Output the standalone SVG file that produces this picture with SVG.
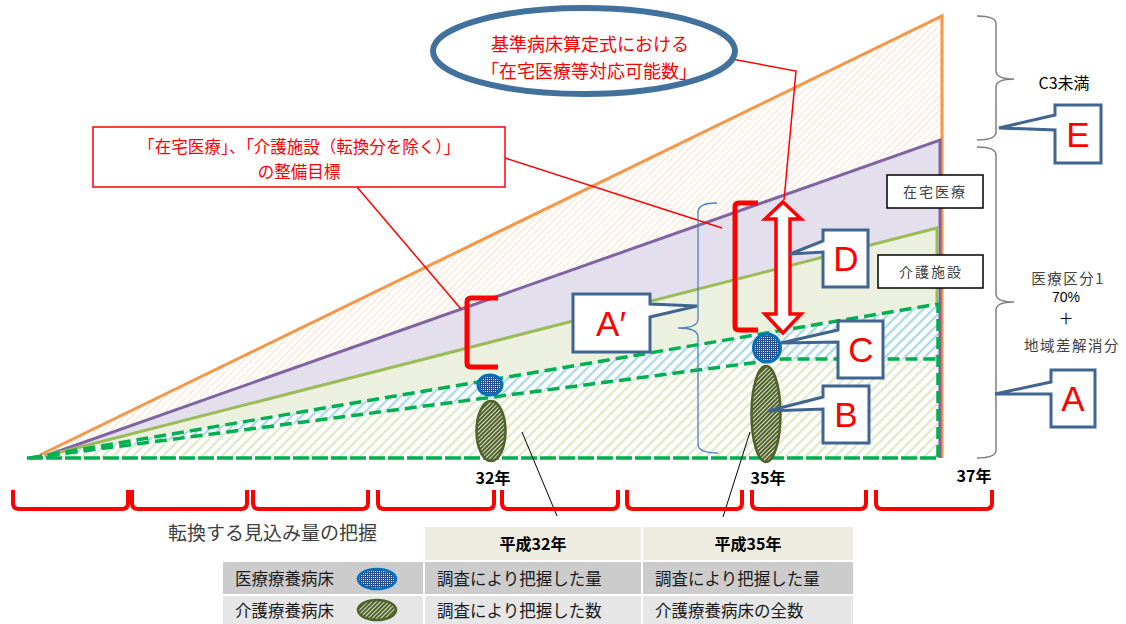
<svg xmlns="http://www.w3.org/2000/svg" width="1126" height="624" viewBox="0 0 1126 624">
<style>
.jp{font-family:"Noto Sans CJK JP","Noto Sans",sans-serif}
.red{fill:#FF0000}
.lat{font-family:"Liberation Sans",Arial,sans-serif}
.call{fill:#fff;stroke:#3F6590;stroke-width:3;stroke-linejoin:miter}
.letter{font-family:"Liberation Sans",Arial,sans-serif;font-size:35px;fill:#FF0000;text-anchor:middle}
.rl{stroke:#FF0000;stroke-width:1.5;fill:none}
.bl{stroke:#000;stroke-width:1;fill:none}
.brk{stroke:#FF0000;stroke-width:4;fill:none;stroke-linecap:butt}
.gb{stroke:#7F7F7F;stroke-width:1.5;fill:none}
.yr{font-family:"Noto Sans CJK JP",sans-serif;font-size:16px;font-weight:bold;fill:#000;text-anchor:middle}
.cell{font-family:"Noto Sans CJK JP",sans-serif;font-size:16.5px;fill:#1a1a1a}
</style>
<defs>
<pattern id="hOr" width="5" height="5" patternUnits="userSpaceOnUse" patternTransform="rotate(45)"><rect width="5" height="5" fill="#fff"/><line x1="2.5" y1="0" x2="2.5" y2="5" stroke="#FDE3D0" stroke-width="1.2"/></pattern>
<pattern id="hBl" width="7" height="7" patternUnits="userSpaceOnUse" patternTransform="rotate(45)"><rect width="7" height="7" fill="#fff"/><line x1="3.5" y1="0" x2="3.5" y2="7" stroke="#9DD2DF" stroke-width="2"/></pattern>
<pattern id="hGr" width="7" height="7" patternUnits="userSpaceOnUse" patternTransform="rotate(45)"><rect width="7" height="7" fill="#fff"/><line x1="3.5" y1="0" x2="3.5" y2="7" stroke="#D9E6C0" stroke-width="2"/></pattern>
<pattern id="mesh" width="4" height="4" patternUnits="userSpaceOnUse"><rect width="4" height="4" fill="#fff"/><path d="M0 0.5H4M0.5 0V4M0 2.5H4M2.5 0V4" stroke="#264F8C" stroke-width="1.2"/></pattern>
<pattern id="oh" width="3" height="3" patternUnits="userSpaceOnUse" patternTransform="rotate(45)"><rect width="3" height="3" fill="#4F6228"/><line x1="1.5" y1="0" x2="1.5" y2="3" stroke="#fff" stroke-width="0.8"/></pattern>
</defs>
<rect width="1126" height="624" fill="#fff"/>

<g id="chart">
<polygon points="40,455 942,16 942,458 40,458" fill="url(#hOr)"/>
<polygon points="45,456 940,140 940,458" fill="#E4DFEC"/>
<polygon points="45,456 937,228 937,458" fill="#EBF1DE"/>
<polygon points="30,458 938,304 938,458" fill="url(#hBl)"/>
<polygon points="30,458 782,359 938,359 938,458" fill="url(#hGr)"/>
<polyline points="40,455 942,16 942,458" fill="none" stroke="#F79646" stroke-width="3"/>
<polyline points="45,456 940,140 940,458" fill="none" stroke="#8064A2" stroke-width="3"/>
<polyline points="45,456 937,228 937,302" fill="none" stroke="#9BBB59" stroke-width="3"/>
<polyline points="30,458 938,304 938,458" fill="none" stroke="#00B050" stroke-width="3.5" stroke-dasharray="12 6"/>
<polyline points="30,458 782,359 938,359" fill="none" stroke="#00B050" stroke-width="3.5" stroke-dasharray="12 6"/>
<line x1="27" y1="458" x2="938" y2="458" stroke="#00B050" stroke-width="3.5" stroke-dasharray="16 3"/>
</g>

<g id="connectors">
<polyline class="rl" points="721,57 796,71 784,200"/>
<line class="rl" x1="505" y1="158" x2="722" y2="228"/>
<line class="rl" x1="357" y1="187" x2="461" y2="309"/>
<line class="bl" x1="522" y1="432" x2="557" y2="516"/>
<line class="bl" x1="750" y1="432" x2="723" y2="517"/>
</g>

<g id="bracket-32">
<path d="M498,298 H471 Q467,298 467,302 V363 Q467,367 471,367 H498" fill="none" stroke="#FF0000" stroke-width="5"/>
</g>
<g id="bracket-35">
<path d="M758,203 H739 Q735,203 735,207 V326 Q735,330 739,330 H758" fill="none" stroke="#FF0000" stroke-width="5"/>
</g>
<g id="double-arrow">
<path d="M783,202 L801,219 L790,219 L790,314 L801,314 L783,333 L765,314 L776,314 L776,219 L765,219 Z" fill="#fff" stroke="#FF0000" stroke-width="3.5" stroke-linejoin="miter"/>
</g>
<g id="brace-blue">
<path d="M717,203 Q698,203 698,212 V319 Q698,328 678,328 Q698,328 698,337 V444 Q698,453 718,453" fill="none" stroke="#4F81BD" stroke-width="1.3"/>
</g>

<g id="markers-32">
<ellipse cx="490" cy="385" rx="12" ry="10" fill="url(#mesh)" stroke="#0070C0" stroke-width="3"/>
<ellipse cx="491" cy="431" rx="14.5" ry="30" fill="url(#oh)" stroke="#4F6228" stroke-width="2.5"/>
</g>
<g id="markers-35">
<ellipse cx="767" cy="348" rx="13.5" ry="14" fill="url(#mesh)" stroke="#0070C0" stroke-width="3"/>
<ellipse cx="766" cy="414" rx="14.5" ry="48" fill="url(#oh)" stroke="#4F6228" stroke-width="2.5"/>
</g>

<g id="oval-title">
<ellipse cx="584" cy="51" rx="151" ry="43" fill="#fff" stroke="#41719C" stroke-width="6"/>
<text class="jp red" x="590" y="51" font-size="18" text-anchor="middle">基準病床算定式における</text>
<text class="jp red" x="589" y="78" font-size="18" text-anchor="middle">「在宅医療等対応可能数」</text>
</g>

<g id="target-box">
<rect x="93" y="127" width="412" height="60" fill="#fff" stroke="#FF0000" stroke-width="1.5"/>
<text class="jp red" x="299" y="153" font-size="16.5" text-anchor="middle">「在宅医療」、「介護施設（転換分を除く）」</text>
<text class="jp red" x="299" y="178" font-size="16.5" text-anchor="middle">の整備目標</text>
</g>

<g id="label-zaitaku">
<rect x="887" y="175" width="96" height="33" fill="#fff" stroke="#000" stroke-width="1.5"/>
<text class="jp" x="935" y="197" font-size="14" fill="#404040" text-anchor="middle" letter-spacing="2">在宅医療</text>
</g>
<g id="label-kaigo">
<rect x="878" y="255" width="105" height="33" fill="#fff" stroke="#000" stroke-width="1.5"/>
<text class="jp" x="931" y="277" font-size="14" fill="#404040" text-anchor="middle" letter-spacing="2">介護施設</text>
</g>

<g id="brace-E">
<path class="gb" d="M977,16 Q996,16 996,24 V71 Q996,79 1014,79 Q996,79 996,87 V132 Q996,140 977,140"/>
<text class="jp" x="1064" y="89" font-size="16" fill="#000" text-anchor="middle">C3未満</text>
</g>
<g id="brace-A">
<path class="gb" d="M977,147 Q996,147 996,155 V294 Q996,302 1014,302 Q996,302 996,310 V450 Q996,458 977,458"/>
<text class="jp" x="1068" y="284" font-size="14.5" fill="#404040" text-anchor="middle" letter-spacing="1.5">医療区分1</text>
<text class="lat" x="1066" y="302" font-size="14" fill="#000" text-anchor="middle">70%</text>
<text class="jp" x="1066" y="324" font-size="15" fill="#000" text-anchor="middle">＋</text>
<text class="jp" x="1072" y="351" font-size="14.5" fill="#404040" text-anchor="middle" letter-spacing="1.5">地域差解消分</text>
</g>

<g id="callout-E">
<path class="call" d="M1055,105 H1101 V163 H1055 V130 L999,128 L1055,115 Z"/>
<text class="letter" x="1078" y="147">E</text>
</g>
<g id="callout-A">
<path class="call" d="M1051,370 H1095 V427 H1051 V394 L995,394 L1051,382 Z"/>
<text class="letter" x="1073" y="411">A</text>
</g>
<g id="callout-D">
<path class="call" d="M823,230 H868 V287 H823 V252 L790,254 L823,241 Z"/>
<text class="letter" x="846" y="271">D</text>
</g>
<g id="callout-C">
<path class="call" d="M838,321 H883 V378 H838 V342 L781,343 L838,330 Z"/>
<text class="letter" x="861" y="362">C</text>
</g>
<g id="callout-B">
<path class="call" d="M823,386 H869 V443 H823 V409 L768,411 L823,397 Z"/>
<text class="letter" x="846" y="427">B</text>
</g>
<g id="callout-Aprime">
<path class="call" d="M573,294 H650 V304 L697,306 L650,317 V352 H573 Z"/>
<text class="letter" x="611" y="336">A′</text>
</g>

<g id="years">
<text class="yr" x="493" y="484">32年</text>
<text class="yr" x="768" y="484">35年</text>
<text class="yr" x="974" y="482">37年</text>
</g>

<g id="period-brackets">
<path class="brk" d="M13,490 V503 Q13,509 19,509 H122 Q128,509 128,503 V490"/>
<path class="brk" d="M132,490 V503 Q132,509 138,509 H241 Q247,509 247,503 V490"/>
<path class="brk" d="M253,490 V503 Q253,509 259,509 H362 Q368,509 368,503 V490"/>
<path class="brk" d="M378,490 V503 Q378,509 384,509 H488 Q494,509 494,503 V490"/>
<path class="brk" d="M502,490 V503 Q502,509 508,509 H612 Q618,509 618,503 V490"/>
<path class="brk" d="M627,490 V503 Q627,509 633,509 H736 Q742,509 742,503 V490"/>
<path class="brk" d="M752,490 V503 Q752,509 758,509 H860 Q866,509 866,503 V490"/>
<path class="brk" d="M876,490 V503 Q876,509 882,509 H986 Q992,509 992,503 V490"/>
</g>

<g id="legend-table">
<text class="jp" x="168" y="540" font-size="19" fill="#404040">転換する見込み量の把握</text>
<rect x="425" y="527" width="216" height="33" fill="#EEECE1"/>
<rect x="643" y="527" width="210" height="33" fill="#EEECE1"/>
<rect x="223" y="562" width="200" height="32" fill="#CCCCCC"/>
<rect x="425" y="562" width="216" height="32" fill="#CCCCCC"/>
<rect x="643" y="562" width="210" height="32" fill="#CCCCCC"/>
<rect x="223" y="596" width="200" height="28" fill="#E6E6E6"/>
<rect x="425" y="596" width="216" height="28" fill="#E6E6E6"/>
<rect x="643" y="596" width="210" height="28" fill="#E6E6E6"/>
<text class="yr" x="533" y="550">平成32年</text>
<text class="yr" x="748" y="550">平成35年</text>
<text class="cell" x="235" y="585">医療療養病床</text>
<ellipse cx="377" cy="579" rx="19" ry="10" fill="url(#mesh)" stroke="#0070C0" stroke-width="2.5"/>
<text class="cell" x="437" y="585">調査により把握した量</text>
<text class="cell" x="655" y="585">調査により把握した量</text>
<text class="cell" x="235" y="617">介護療養病床</text>
<ellipse cx="377" cy="610" rx="19" ry="10" fill="url(#oh)" stroke="#4F6228" stroke-width="2.5"/>
<text class="cell" x="437" y="617">調査により把握した数</text>
<text class="cell" x="655" y="617">介護療養病床の全数</text>
</g>
</svg>
